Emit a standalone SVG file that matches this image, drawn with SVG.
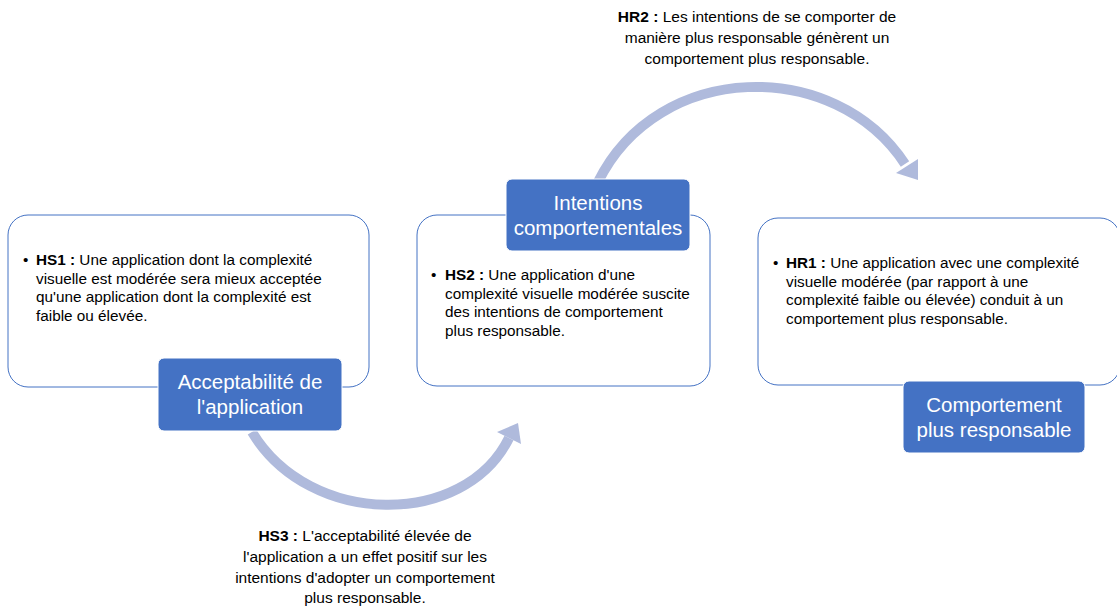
<svg xmlns="http://www.w3.org/2000/svg" width="1117" height="608" viewBox="0 0 1117 608">
<style>
.box{fill:#fff;stroke:#4472C4;stroke-width:1}
.lab{fill:#4472C4;stroke:#fff;stroke-width:1}
.lt{font-family:"Liberation Sans",Arial,sans-serif;font-size:20.5px;fill:#fff;text-anchor:middle}
.bt{font-family:"Liberation Sans",Arial,sans-serif;font-size:15.3px;fill:#000}
.ct{font-family:"Liberation Sans",Arial,sans-serif;font-size:15.5px;fill:#000;text-anchor:middle}
.b{font-weight:bold}
.arc{fill:none;stroke:#AFBADC;stroke-width:10}
.head{fill:#AFBADC}
</style>
<g id="box-hs1">
<rect class="box" x="8" y="215" width="361" height="172" rx="20"/>
<text class="bt" x="23" y="265">•</text>
<text class="bt"><tspan x="36" y="265"><tspan class="b">HS1 :</tspan> Une application dont la complexité</tspan><tspan x="36" y="284">visuelle est modérée sera mieux acceptée</tspan><tspan x="36" y="302">qu'une application dont la complexité est</tspan><tspan x="36" y="321">faible ou élevée.</tspan></text>
</g>
<g id="box-hs2">
<rect class="box" x="417" y="215" width="293" height="171" rx="20"/>
<text class="bt" x="431" y="280">•</text>
<text class="bt"><tspan x="445" y="280"><tspan class="b">HS2 :</tspan> Une application d'une</tspan><tspan x="445" y="299">complexité visuelle modérée suscite</tspan><tspan x="445" y="317">des intentions de comportement</tspan><tspan x="445" y="336">plus responsable.</tspan></text>
</g>
<g id="box-hr1">
<rect class="box" x="758" y="218" width="362" height="167" rx="20"/>
<text class="bt" x="773" y="268">•</text>
<text class="bt"><tspan x="786" y="268"><tspan class="b">HR1 :</tspan> Une application avec une complexité</tspan><tspan x="786" y="287">visuelle modérée (par rapport à une</tspan><tspan x="786" y="305">complexité faible ou élevée) conduit à un</tspan><tspan x="786" y="324">comportement plus responsable.</tspan></text>
</g>
<g id="connectors">
<path class="arc" d="M 252 432 C 310 528 465 528 509 438"/>
<polygon class="head" points="497,432 518,423 521,444"/>
<path class="arc" d="M 598 182 C 658 60 835 57 905 164"/>
<polygon class="head" points="896,173 918,159 918,180"/>
</g>
<g id="label-acceptabilite">
<rect class="lab" x="158" y="358" width="184" height="73" rx="6"/>
<text class="lt"><tspan x="250" y="389">Acceptabilité de</tspan><tspan x="250" y="414">l'application</tspan></text>
</g>
<g id="label-intentions">
<rect class="lab" x="506" y="179" width="184" height="72" rx="6"/>
<text class="lt"><tspan x="598" y="210">Intentions</tspan><tspan x="598" y="235">comportementales</tspan></text>
</g>
<g id="label-comportement">
<rect class="lab" x="903" y="381" width="182" height="72" rx="6"/>
<text class="lt"><tspan x="994" y="412">Comportement</tspan><tspan x="994" y="437">plus responsable</tspan></text>
</g>
<g id="text-hs3">
<text class="ct"><tspan x="365" y="541"><tspan class="b">HS3 :</tspan> L'acceptabilité élevée de</tspan><tspan x="365" y="562">l'application a un effet positif sur les</tspan><tspan x="365" y="583">intentions d'adopter un comportement</tspan><tspan x="365" y="603">plus responsable.</tspan></text>
</g>
<g id="text-hr2">
<text class="ct"><tspan x="757" y="22"><tspan class="b">HR2 :</tspan> Les intentions de se comporter de</tspan><tspan x="757" y="43">manière plus responsable génèrent un</tspan><tspan x="757" y="64">comportement plus responsable.</tspan></text>
</g>
</svg>
